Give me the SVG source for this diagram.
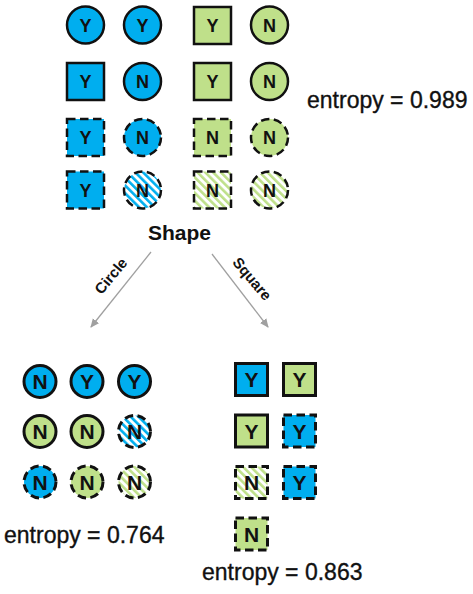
<svg xmlns="http://www.w3.org/2000/svg" width="473" height="594" viewBox="0 0 473 594">
<style>
.b{fill:#00AEEF}
.g{fill:#BFE08A}
.hb{fill:url(#hb)}
.hg{fill:url(#hg)}
.s{stroke:#111;stroke-width:2.5}
.d{stroke:#111;stroke-width:2.5;stroke-dasharray:8.5 4.5}
.s3{stroke:#111;stroke-width:3}
.d3{stroke:#111;stroke-width:3;stroke-dasharray:8.5 4.5}
.l{font-family:"Liberation Sans",Arial,sans-serif;font-weight:bold;font-size:18px;text-anchor:middle;fill:#111}
.L{font-family:"Liberation Sans",Arial,sans-serif;font-weight:bold;font-size:21px;text-anchor:middle;fill:#111}
.e{font-family:"Liberation Sans",Arial,sans-serif;font-size:23px;fill:#111;stroke:#111;stroke-width:0.35}
.lab{font-family:"Liberation Sans",Arial,sans-serif;font-weight:bold;font-size:15px;text-anchor:middle;fill:#111}
.conn{stroke:#A0A0A0;stroke-width:1.3;fill:none;marker-end:url(#ah)}
</style>
<defs>
<pattern id="hb" width="5.5" height="5.5" patternUnits="userSpaceOnUse" patternTransform="rotate(-45)"><rect width="5.5" height="5.5" fill="#fff"/><rect width="2.6" height="5.5" fill="#00AEEF"/></pattern>
<pattern id="hg" width="5.5" height="5.5" patternUnits="userSpaceOnUse" patternTransform="rotate(-45)"><rect width="5.5" height="5.5" fill="#fff"/><rect width="2.6" height="5.5" fill="#BFE08A"/></pattern>
<marker id="ah" markerWidth="10" markerHeight="10" refX="8" refY="4" orient="auto" markerUnits="userSpaceOnUse"><path d="M0,0 L9,4 L0,8 Z" fill="#A0A0A0"/></marker>
</defs>

<!-- top grid -->
<g id="t11"><circle cx="85.5" cy="25" r="18.5" class="b s"/><text x="85.5" y="31.5" class="l">Y</text></g>
<g id="t12"><circle cx="142.5" cy="25" r="18.5" class="b s"/><text x="142.5" y="31.5" class="l">Y</text></g>
<g id="t13"><rect x="194" y="7" width="37" height="37" class="g s"/><text x="212.5" y="31.5" class="l">Y</text></g>
<g id="t14"><circle cx="269.5" cy="25" r="18.5" class="g s"/><text x="269.5" y="31.5" class="l">N</text></g>

<g id="t21"><rect x="67" y="63" width="37" height="37" class="b s"/><text x="85.5" y="88" class="l">Y</text></g>
<g id="t22"><circle cx="142.5" cy="81.5" r="18.5" class="b s"/><text x="142.5" y="88" class="l">N</text></g>
<g id="t23"><rect x="194" y="63" width="37" height="37" class="g s"/><text x="212.5" y="88" class="l">Y</text></g>
<g id="t24"><circle cx="269.5" cy="81.5" r="18.5" class="g s"/><text x="269.5" y="88" class="l">N</text></g>

<g id="t31"><rect x="67" y="119" width="37" height="37" class="b d"/><text x="85.5" y="144" class="l">Y</text></g>
<g id="t32"><circle cx="142.5" cy="137.5" r="18.5" class="b d"/><text x="142.5" y="144" class="l">N</text></g>
<g id="t33"><rect x="194" y="119" width="37" height="37" class="g d"/><text x="212.5" y="144" class="l">N</text></g>
<g id="t34"><circle cx="269.5" cy="137.5" r="18.5" class="g d"/><text x="269.5" y="144" class="l">N</text></g>

<g id="t41"><rect x="67" y="171.5" width="37" height="37" class="b d"/><text x="85.5" y="196.5" class="l">Y</text></g>
<g id="t42"><circle cx="142.5" cy="190" r="18.5" class="hb d"/><text x="142.5" y="196.5" class="l">N</text></g>
<g id="t43"><rect x="194" y="171.5" width="37" height="37" class="hg d"/><text x="212.5" y="196.5" class="l">N</text></g>
<g id="t44"><circle cx="269.5" cy="190" r="18.5" class="hg d"/><text x="269.5" y="196.5" class="l">N</text></g>

<g id="entropy-top"><text x="307" y="108" class="e">entropy = 0.989</text></g>
<g id="shape"><text x="179.5" y="240" font-family="'Liberation Sans',Arial,sans-serif" font-weight="bold" font-size="21" text-anchor="middle" fill="#111">Shape</text></g>

<g id="connectors">
<line x1="151" y1="252" x2="91" y2="327" class="conn"/>
<line x1="212" y1="254" x2="268" y2="327" class="conn"/>
<text class="lab" transform="translate(111,276) rotate(-50)" y="5">Circle</text>
<text class="lab" transform="translate(252,279) rotate(50)" y="5">Square</text>
</g>

<!-- bottom left: circles -->
<g id="c11"><circle cx="40" cy="381.5" r="16" class="b s3"/><text x="40" y="389" class="L">N</text></g>
<g id="c12"><circle cx="87" cy="381.5" r="16" class="b s3"/><text x="87" y="389" class="L">Y</text></g>
<g id="c13"><circle cx="134.5" cy="381.5" r="16" class="b s3"/><text x="134.5" y="389" class="L">Y</text></g>
<g id="c21"><circle cx="40" cy="431.5" r="16" class="g s3"/><text x="40" y="439" class="L">N</text></g>
<g id="c22"><circle cx="87" cy="431.5" r="16" class="g s3"/><text x="87" y="439" class="L">N</text></g>
<g id="c23"><circle cx="134.5" cy="431.5" r="16" class="hb d3"/><text x="134.5" y="439" class="L">N</text></g>
<g id="c31"><circle cx="40" cy="482" r="16" class="b d3"/><text x="40" y="489.5" class="L">N</text></g>
<g id="c32"><circle cx="87" cy="482" r="16" class="g d3"/><text x="87" y="489.5" class="L">N</text></g>
<g id="c33"><circle cx="134.5" cy="482" r="16" class="hg d3"/><text x="134.5" y="489.5" class="L">N</text></g>
<g id="entropy-left"><text x="4" y="543" class="e">entropy = 0.764</text></g>

<!-- bottom right: squares -->
<g id="q11"><rect x="235.5" y="363.5" width="32" height="32" class="b s3"/><text x="251.5" y="387" class="L">Y</text></g>
<g id="q12"><rect x="283.5" y="363.5" width="32" height="32" class="g s3"/><text x="299.5" y="387" class="L">Y</text></g>
<g id="q21"><rect x="235.5" y="415" width="32" height="32" class="g s3"/><text x="251.5" y="438.5" class="L">Y</text></g>
<g id="q22"><rect x="283.5" y="415" width="32" height="32" class="b d3"/><text x="299.5" y="438.5" class="L">Y</text></g>
<g id="q31"><rect x="235.5" y="466.5" width="32" height="32" class="hg d3"/><text x="251.5" y="490" class="L">N</text></g>
<g id="q32"><rect x="283.5" y="466.5" width="32" height="32" class="b d3"/><text x="299.5" y="490" class="L">Y</text></g>
<g id="q41"><rect x="235.5" y="518" width="32" height="32" class="g d3"/><text x="251.5" y="541.5" class="L">N</text></g>
<g id="entropy-right"><text x="202" y="580" class="e">entropy = 0.863</text></g>
</svg>
